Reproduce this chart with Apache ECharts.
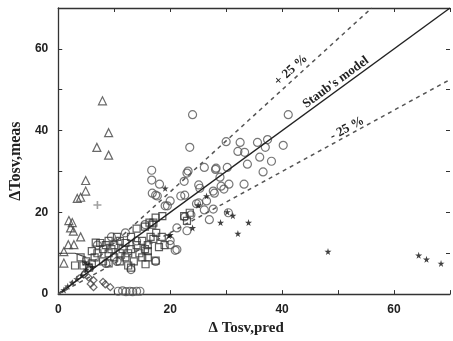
<!DOCTYPE html>
<html>
<head>
<meta charset="utf-8">
<script src="https://cdn.jsdelivr.net/npm/echarts@6/dist/echarts.min.js"></script>
<style>
  html, body { margin: 0; padding: 0; background: #fff; }
  #chart { width: 453px; height: 341px; }
</style>
</head>
<body>
<div id="chart"></div>
<script>
// values
const circles = [
  [24.0, 43.9], [41.1, 43.9], [23.5, 35.9], [30.0, 37.3], [32.5, 37.1], [35.6, 37.1],
  [37.4, 37.8], [40.2, 36.4], [37.0, 35.9], [32.1, 34.9], [33.3, 34.7], [36.0, 33.5],
  [38.1, 32.5], [33.8, 31.8], [36.6, 29.9], [30.2, 31.0], [28.2, 30.8], [26.1, 31.0],
  [23.2, 30.1], [28.9, 28.6], [33.2, 26.9], [30.5, 26.9], [29.1, 26.4], [27.7, 25.2],
  [25.1, 26.7], [25.3, 25.9], [22.5, 27.6], [21.9, 24.0], [22.6, 24.2], [20.0, 22.8],
  [18.1, 26.9], [17.4, 24.2], [19.1, 21.6], [27.9, 24.7], [26.1, 20.6], [27.7, 20.8],
  [27.0, 18.2], [25.1, 22.3], [22.6, 18.9], [23.7, 19.4], [23.0, 15.5], [21.2, 16.2],
  [20.0, 12.1], [20.9, 10.7], [17.4, 8.0], [16.7, 30.3], [16.7, 27.9], [16.8, 24.7],
  [17.7, 24.0], [19.5, 21.6], [23.0, 29.6], [28.1, 30.5], [29.6, 25.7], [24.7, 22.1],
  [26.5, 22.8], [30.4, 19.9], [20.0, 13.1], [21.2, 10.9], [15.5, 17.0], [14.0, 13.0],
  [12.0, 15.0], [9.5, 14.0], [10.5, 8.0], [13.0, 6.0], [8.5, 7.5], [7.0, 12.0],
  [10.7, 0.7], [11.5, 0.8], [12.1, 0.6], [12.8, 0.7], [13.3, 0.6], [14.0, 0.7], [14.6, 0.7]
];
const squares = [
  [4.5, 7], [5, 8], [5.5, 6.5], [6, 7.5], [6.5, 9], [7, 10], [7.5, 12.5], [8, 11],
  [8.5, 12], [9, 10], [9.5, 11], [9, 13], [10, 12], [10.5, 14], [11, 13], [11, 10],
  [11.5, 11], [12, 12.5], [12, 9], [12.5, 10], [13, 14], [13, 11], [13.5, 8], [13, 6.5],
  [14, 12], [14.5, 10], [15, 13], [15.5, 11], [15, 9], [16, 10.5], [16.5, 14], [16, 12],
  [17, 13.5], [17.5, 15], [18, 11.5], [18.5, 14], [18.6, 19.1], [19, 12], [14, 16],
  [15.5, 16.5], [17, 17.5], [11, 8], [10, 9], [12.5, 7], [8, 8], [6.7, 12.6], [9, 7.5],
  [15.6, 7.3], [17.4, 8.2], [16, 9], [22.5, 19.1], [23, 17.9], [23.5, 19.9], [3, 7],
  [4, 9], [6, 10.5], [16.3, 17.5], [16.8, 17.0], [17.4, 18.7]
];
const triangles = [
  [7.9, 47.3], [9.0, 39.5], [6.9, 35.9], [9.0, 34.0], [4.9, 27.8], [4.9, 25.2],
  [4.0, 23.7], [3.4, 23.4], [1.9, 18.0], [2.5, 17.5], [2.2, 16.2], [2.7, 15.4],
  [4.0, 14.0], [2.8, 12.1], [1.8, 12.1], [1.0, 10.4], [1.0, 7.6]
];
const stars = [
  [48.2, 10.4], [64.4, 9.5], [65.8, 8.5], [68.4, 7.5], [29.0, 17.5], [32.1, 14.8],
  [30.2, 20.1], [31.2, 19.2], [34.0, 17.5], [26.5, 24.0], [25.0, 21.8], [24.0, 16.2],
  [20.0, 14.5], [19.1, 25.9], [19.8, 14.3], [1.0, 1.0], [1.7, 1.9], [2.5, 2.8],
  [3.3, 3.7], [4.2, 4.6], [5.0, 6.0], [5.5, 7.2], [4.8, 7.8], [6.0, 6.6]
];
const diamonds = [
  [4.6, 4.8], [5.4, 4.1], [6.3, 3.4], [5.8, 2.5], [6.3, 1.7], [8.4, 2.4], [9.3, 1.7], [8.0, 3.0]
];
const plusMarks = [[7.0, 21.8]];

const staubLine = [[0, 0], [70, 70]];
const plus25Line = [[0, 0], [56, 70]];
const minus25Line = [[0, 0], [70, 52.5]];
const offsetCurve = [[0, 10], [3, 10], [5, 9]];

// label anchors in data units: [x, y, text, line slope]
const lineLabels = [
  [41.6, 54.8, '+ 25 %', 1.25],
  [49.6, 51.8, "Staub's model", 1.0],
  [51.6, 40.5, '- 25 %', 0.75]
];

const starPath = 'path://M50,0 L61,35 L98,35 L68,57 L79,91 L50,70 L21,91 L32,57 L2,35 L39,35 Z';
const plusPath = 'path://M4,0H6V4H10V6H6V10H4V6H0V4H4Z';
const ink = '#222';

const chart = echarts.init(document.getElementById('chart'));

const openStyle = (c) => ({ color: 'rgba(0,0,0,0)', borderColor: c, borderWidth: 1.2 });

const tickLabel = v => (v % 20 === 0 ? String(v) : '');

const frameLine = { show: true, onZero: false, lineStyle: { color: '#333', width: 1.3 } };
const frameTick = { show: true, inside: true, length: 4, lineStyle: { color: '#333' } };

chart.setOption({
  animation: false,
  grid: { left: 54, right: 1, top: 8, bottom: 44 },
  xAxis: [
    {
      type: 'value', min: 0, max: 70, interval: 10,
      name: '\u0394 Tosv,pred', nameLocation: 'middle', nameGap: 24,
      nameTextStyle: { fontFamily: 'Liberation Serif', fontWeight: 'bold', fontSize: 15, color: ink, padding: [0, 16, 0, 0] },
      axisLine: frameLine, axisTick: frameTick,
      axisLabel: { formatter: tickLabel, color: ink, fontFamily: 'Liberation Sans', fontWeight: 'bold', fontSize: 12, margin: 10 },
      splitLine: { show: false }
    },
    {
      type: 'value', position: 'top', min: 0, max: 70, interval: 10,
      axisLine: frameLine, axisTick: frameTick,
      axisLabel: { show: false }, splitLine: { show: false }
    }
  ],
  yAxis: [
    {
      type: 'value', min: 0, max: 70, interval: 10,
      name: '\u0394Tosv,meas', nameLocation: 'middle', nameGap: 31, nameRotate: 90,
      nameTextStyle: { fontFamily: 'Liberation Serif', fontWeight: 'bold', fontSize: 16, color: ink, padding: [0, 20, 0, 0] },
      axisLine: frameLine, axisTick: frameTick,
      axisLabel: { formatter: tickLabel, color: ink, fontFamily: 'Liberation Sans', fontWeight: 'bold', fontSize: 12, margin: 10 },
      splitLine: { show: false }
    },
    {
      // right side: ticks only, the scan shows no border line there
      type: 'value', position: 'right', min: 0, max: 70, interval: 10,
      axisLine: { show: false, onZero: false }, axisTick: frameTick,
      axisLabel: { show: false }, splitLine: { show: false }
    }
  ],
  series: [
    { type: 'line', data: staubLine, symbol: 'none', lineStyle: { color: ink, width: 1.4 }, z: 3 },
    { type: 'line', data: plus25Line, symbol: 'none', lineStyle: { color: '#555', width: 1.5, type: [4, 4] }, z: 3 },
    { type: 'line', data: minus25Line, symbol: 'none', lineStyle: { color: '#555', width: 1.5, type: [4, 4] }, z: 3 },
    { type: 'line', data: offsetCurve, symbol: 'none', lineStyle: { color: '#444', width: 1.2 }, z: 3 },
    { type: 'scatter', data: circles, symbol: 'circle', symbolSize: 8, itemStyle: openStyle('#555') },
    { type: 'scatter', data: squares, symbol: 'rect', symbolSize: 7, itemStyle: openStyle('#333') },
    { type: 'scatter', data: triangles, symbol: 'triangle', symbolSize: 8, itemStyle: openStyle('#444') },
    { type: 'scatter', data: diamonds, symbol: 'diamond', symbolSize: 7, itemStyle: openStyle('#444') },
    { type: 'scatter', data: stars, symbol: starPath, symbolSize: 7, itemStyle: { color: '#111' } },
    { type: 'scatter', data: plusMarks, symbol: plusPath, symbolSize: 8, itemStyle: { color: '#888' } }
  ]
});

// place the line annotations along their lines
const graphics = lineLabels.map(([x, y, text, slope]) => {
  const p = chart.convertToPixel({ gridIndex: 0 }, [x, y]);
  const a = chart.convertToPixel({ gridIndex: 0 }, [0, 0]);
  const b = chart.convertToPixel({ gridIndex: 0 }, [10, 10 * slope]);
  const angle = Math.atan2(a[1] - b[1], b[0] - a[0]);
  return {
    type: 'text', x: p[0], y: p[1], rotation: angle,
    style: { text, align: 'center', verticalAlign: 'middle', fill: ink,
             font: 'bold 13px "Liberation Serif"' },
    z: 10
  };
});
chart.setOption({ graphic: graphics });
</script>
</body>
</html>
